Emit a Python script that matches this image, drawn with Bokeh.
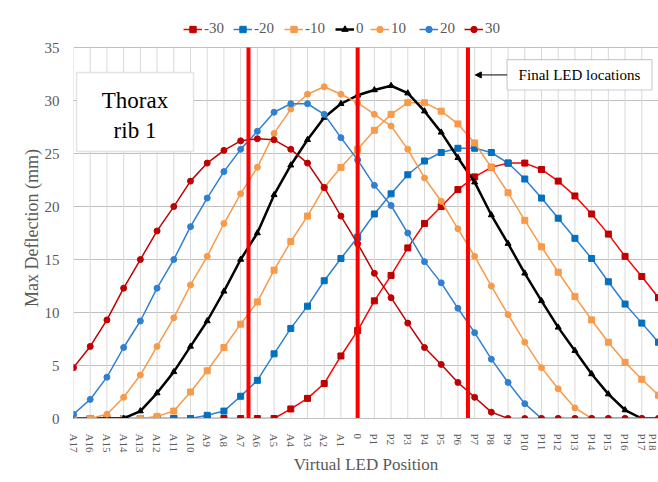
from bokeh.plotting import figure
from bokeh.models import (Legend, LegendItem, BoxAnnotation, Label, Arrow,
                          NormalHead, FixedTicker, Range1d)
from bokeh.embed import file_html
from bokeh.resources import INLINE

# ---------------- data ----------------
categories = ["A17", "A16", "A15", "A14", "A13", "A12", "A11", "A10", "A9", "A8",
              "A7", "A6", "A5", "A4", "A3", "A2", "A1", "0",
              "P1", "P2", "P3", "P4", "P5", "P6", "P7", "P8", "P9", "P10",
              "P11", "P12", "P13", "P14", "P15", "P16", "P17", "P18"]

s_m30 = [0, 0, 0, 0, 0, 0, 0, 0, 0, 0, 0, 0, 0, 0.9, 1.9, 3.3, 5.9, 8.3,
         11.1, 13.5, 16.1, 18.4, 20.0, 21.6, 22.8, 23.7, 24.1, 24.1,
         23.5, 22.4, 21.0, 19.3, 17.4, 15.3, 13.4, 11.4]
s_m20 = [0, 0, 0, 0, 0, 0, 0, 0, 0.3, 0.7, 2.1, 3.6, 6.1, 8.5, 10.6, 13.0, 15.1, 17.1,
         19.3, 21.2, 23.0, 24.3, 25.1, 25.5, 25.5, 25.1, 24.1, 22.6,
         20.8, 18.9, 17.0, 15.1, 12.9, 10.8, 9.0, 7.2]
s_m10 = [0, 0, 0, 0, 0, 0.2, 0.7, 2.5, 4.5, 6.7, 8.9, 11.0, 14.0, 16.7, 19.1, 21.8, 23.7, 25.4,
         27.2, 28.7, 29.8, 29.8, 29.0, 27.8, 26.0, 23.7, 21.3, 18.7,
         16.2, 13.8, 11.5, 9.3, 7.2, 5.3, 3.7, 2.2]
s_0 = [0, 0, 0, 0, 0.7, 2.4, 4.4, 6.8, 9.2, 12.0, 15.0, 17.5, 21.1, 23.9, 26.3, 28.4, 29.7, 30.5,
       31.0, 31.4, 30.7, 29.0, 27.0, 24.6, 22.3, 19.2, 16.5, 13.7,
       11.1, 8.6, 6.4, 4.2, 2.3, 0.8, 0, 0]
s_10 = [0, 0, 0.4, 2.0, 4.1, 6.8, 9.5, 12.6, 15.3, 18.4, 21.2, 23.7, 26.9, 29.2, 30.6, 31.3, 30.6, 29.8,
        28.7, 27.6, 25.4, 22.7, 20.5, 17.9, 15.3, 12.5, 9.8, 7.2,
        4.8, 2.8, 1.0, 0, 0, 0, 0, 0]
s_20 = [0.4, 1.8, 3.9, 6.7, 9.2, 12.3, 15.0, 18.1, 20.8, 23.3, 25.4, 27.1, 28.9, 29.7, 29.7, 28.7, 26.5, 24.4,
        22.0, 20.1, 17.5, 14.8, 12.8, 10.4, 8.1, 5.6, 3.4, 1.4,
        0, 0, 0, 0, 0, 0, 0, 0]
s_30 = [4.8, 6.8, 9.3, 12.3, 15.0, 17.7, 20.0, 22.4, 24.1, 25.3, 26.2, 26.4, 26.3, 25.4, 24.1, 21.8, 19.1, 16.5,
        13.7, 11.4, 9.0, 6.7, 5.1, 3.4, 2.0, 0.6, 0, 0,
        0, 0, 0, 0, 0, 0, 0, 0]

series_names = ["-30", "-20", "-10", "0", "10", "20", "30"]
series_values = [s_m30, s_m20, s_m10, s_0, s_10, s_20, s_30]

y_ticks = [0, 5, 10, 15, 20, 25, 30, 35]
led_positions = [10.47, 17.0, 23.6]

# ---------------- styles ----------------
line_colors = ["#FF0000", "#2F80D0", "#F79A4A", "#000000", "#F79A4A", "#2F80D0", "#C00000"]
marker_colors = ["#C00000", "#0070C0", "#F79A4A", "#000000", "#F79A4A", "#2F80D0", "#C00000"]
markers = ["square", "square", "square", "triangle", "circle", "circle", "circle"]
line_widths = [1.5, 1.5, 1.5, 2.5, 1.5, 1.5, 1.5]
marker_sizes = [6, 6, 6, 6, 6, 6, 6]
# legend entry left offsets (px from plot-area left edge)
legend_offsets = [110, 160, 211, 262, 297, 346, 391]

SERIF = "Liberation Serif"
GREY = "#595959"
NBSP = "\u00a0"

x = list(range(len(categories)))
y_top = max(y_ticks)

p = figure(width=658, height=482, x_range=Range1d(0, len(categories) - 1),
           y_range=Range1d(0, 38.5), output_backend="svg", toolbar_location=None,
           min_border_left=73, min_border_right=0, min_border_top=10,
           min_border_bottom=64)
p.outline_line_color = None
p.background_fill_color = "white"
p.border_fill_color = "white"

# axes
p.xaxis.ticker = FixedTicker(ticks=x)
p.xaxis.major_label_overrides = {i: c for i, c in enumerate(categories)}
p.xaxis.major_label_orientation = "vertical"
p.xaxis.major_label_text_font = SERIF
p.xaxis.major_label_text_font_size = "11px"
p.xaxis.major_label_text_color = GREY
p.xaxis.major_label_standoff = 9
p.xaxis.axis_label = "Virtual LED Position"
p.xaxis.axis_label_text_font = SERIF
p.xaxis.axis_label_text_font_style = "normal"
p.xaxis.axis_label_text_font_size = "17px"
p.xaxis.axis_label_text_color = GREY
p.xaxis.axis_label_standoff = 0
p.xaxis.axis_line_color = "#BFBFBF"
p.xaxis.major_tick_line_color = None
p.xaxis.minor_tick_line_color = None

p.yaxis.ticker = FixedTicker(ticks=y_ticks)
p.yaxis.major_label_text_font = SERIF
p.yaxis.major_label_text_font_size = "15px"
p.yaxis.major_label_text_color = GREY
p.yaxis.major_label_standoff = 8
p.yaxis.axis_label = "Max Deflection (mm)" + NBSP * 6
p.yaxis.axis_label_text_font = SERIF
p.yaxis.axis_label_text_font_style = "normal"
p.yaxis.axis_label_text_font_size = "18px"
p.yaxis.axis_label_text_color = GREY
p.yaxis.axis_label_standoff = 0
p.yaxis.axis_line_color = None
p.yaxis.major_tick_line_color = None
p.yaxis.minor_tick_line_color = None

p.xgrid.visible = False
p.ygrid.ticker = FixedTicker(ticks=y_ticks)
p.ygrid.grid_line_color = "#BFBFBF"
p.ygrid.grid_line_width = 1.2

# vertical category gridlines (stop at the top tick)
p.segment(x0=x, y0=[0] * len(x), x1=x, y1=[y_top] * len(x),
          line_color="#D9D9D9", line_width=1)

# series
items = []
for name, vals, lc, mc, mk, lw, ms in zip(series_names, series_values, line_colors,
                                          marker_colors, markers, line_widths, marker_sizes):
    r_line = p.line(x, vals, line_color=lc, line_width=lw)
    r_mark = p.scatter(x, vals, marker=mk, size=ms, fill_color=mc, line_color=mc)
    items.append(LegendItem(label=name, renderers=[r_line, r_mark]))

# red "LED" lines
p.segment(x0=led_positions, y0=[0] * len(led_positions), x1=led_positions,
          y1=[y_top] * len(led_positions), line_color="#FF0000", line_width=4)

# one legend per entry so each entry keeps its own width
for item, off in zip(items, legend_offsets):
    lg = Legend(items=[item], orientation="horizontal", location=(off, 381),
                glyph_width=19, glyph_height=16, label_standoff=2, spacing=0,
                padding=0, margin=0, border_line_color=None, background_fill_alpha=0,
                label_text_font=SERIF, label_text_font_size="15px",
                label_text_color=GREY)
    p.add_layout(lg)

# Thorax rib 1 box
p.add_layout(BoxAnnotation(left=0.18, right=7.18, bottom=25.2, top=32.65,
                           fill_color="white", fill_alpha=1,
                           line_color="#A6A6A6", line_width=1.5))
p.add_layout(Label(x=3.68, y=30.0, text="Thorax", text_align="center",
                   text_baseline="middle", text_font=SERIF, text_font_size="23px",
                   text_color="black"))
p.add_layout(Label(x=3.68, y=27.2, text="rib 1", text_align="center",
                   text_baseline="middle", text_font=SERIF, text_font_size="23px",
                   text_color="black"))

# Final LED locations box + arrow
p.add_layout(BoxAnnotation(left=25.94, right=34.61, bottom=31.0, top=33.87,
                           fill_color="white", fill_alpha=1,
                           line_color="#595959", line_width=1.2))
p.add_layout(Label(x=30.27, y=32.43, text="Final LED locations", text_align="center",
                   text_baseline="middle", text_font=SERIF, text_font_size="15px",
                   text_color="black"))
p.add_layout(Arrow(end=NormalHead(size=6, fill_color="black", line_color="black"),
                   x_start=25.94, y_start=32.42, x_end=24.04, y_end=32.42,
                   line_color="black", line_width=1))

open("out.html", "w").write(file_html(p, INLINE))
